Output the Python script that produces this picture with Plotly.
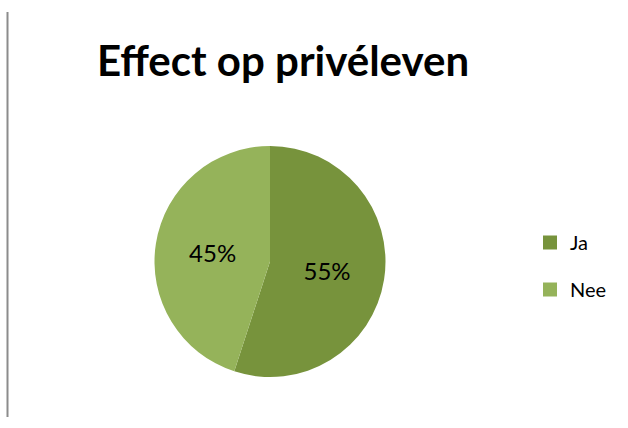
import plotly.graph_objects as go

labels = ["Ja", "Nee"]
values = [55, 45]
colors = ["#77933C", "#95B35A"]
title_text = "Effect op privéleven"

W, H = 628, 428
cx, cy, r = 270, 261.5, 115.5
FONT = "Lato, Noto Sans, sans-serif"

fig = go.Figure()
fig.add_trace(go.Pie(
    labels=labels,
    values=values,
    sort=False,
    direction="clockwise",
    rotation=0,
    marker=dict(colors=colors, line=dict(width=0)),
    textinfo="percent",
    textposition="inside",
    insidetextorientation="horizontal",
    textfont=dict(family=FONT, size=24, color="#000000"),
    domain=dict(x=[(cx - r) / W, (cx + r) / W], y=[1 - (cy + r) / H, 1 - (cy - r) / H]),
    hoverinfo="label+percent",
    showlegend=False,
))

# legend entries (one per category, same colours as the slices)
for i, (lab, col) in enumerate(zip(labels, colors)):
    fig.add_trace(go.Scatter(
        x=[None], y=[None], mode="markers", name=lab,
        legendgroup="g%d" % i,
        marker=dict(symbol="square", size=14, color=col),
        hoverinfo="skip",
    ))

fig.update_layout(
    width=W, height=H,
    margin=dict(l=0, r=0, t=0, b=0),
    paper_bgcolor="white",
    plot_bgcolor="white",
    xaxis=dict(visible=False),
    yaxis=dict(visible=False),
    title=dict(text="<b>" + title_text + "</b>", x=283 / W, xanchor="center",
               y=1 - 61.5 / H, yanchor="middle",
               font=dict(family=FONT, size=42, color="#000000")),
    legend=dict(x=530 / W, xanchor="left", y=1 - 223 / H, yanchor="top",
                font=dict(family=FONT, size=20, color="#000000"),
                bgcolor="rgba(0,0,0,0)", tracegroupgap=18),
    shapes=[dict(type="line", xref="paper", yref="paper",
                 x0=7.5 / W, x1=7.5 / W, y0=1 - 12 / H, y1=1 - 417 / H,
                 line=dict(color="#8C8C8C", width=2))],
)

fig.write_html("out.html", config={"displayModeBar": False},
               post_script="document.body.style.margin='0px';")
